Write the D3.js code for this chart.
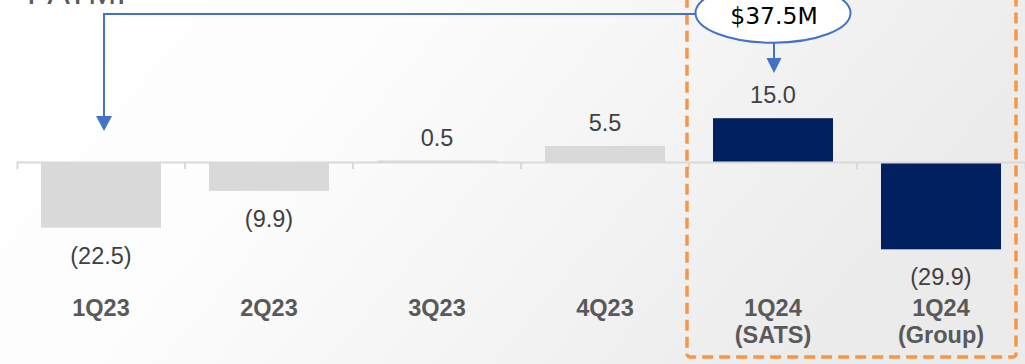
<!DOCTYPE html>
<html>
<head>
<meta charset="utf-8">
<script src="https://cdn.jsdelivr.net/npm/d3@7"></script>
<style>
  html, body { margin: 0; padding: 0; background: #fff; }
  svg { display: block; }
</style>
</head>
<body>
<svg id="chart" width="1025" height="364"></svg>
<script>
// Quarterly PATMI (S$M)
const categories = ["1Q23", "2Q23", "3Q23", "4Q23", "1Q24 (SATS)", "1Q24 (Group)"];
const values = [-22.5, -9.9, 0.5, 5.5, 15.0, -29.9];
const highlighted = [false, false, false, false, true, true];
const calloutText = "$37.5M";
const titleText = "PATMI";

const W = 1025, H = 364;
const svg = d3.select("#chart");

// soft grey wash towards the right
const defs = svg.append("defs");
const grad = defs.append("linearGradient").attr("id", "bg").attr("x1", "0").attr("x2", "1").attr("y1", "0").attr("y2", "0.3");
grad.append("stop").attr("offset", "0").attr("stop-color", "#ffffff");
grad.append("stop").attr("offset", "0.35").attr("stop-color", "#fdfdfd");
grad.append("stop").attr("offset", "1").attr("stop-color", "#ebebeb");
svg.append("rect").attr("width", W).attr("height", H).attr("fill", "url(#bg)");

const x = d3.scaleBand()
  .domain(categories)
  .range([17, 1025])
  .paddingInner(0.2857)
  .paddingOuter(0.1429);

const y = d3.scaleLinear().domain([-30, 15]).range([249.6, 118.2]);
const y0 = y(0);

// title (runs off the top edge)
svg.append("text")
  .attr("x", 27).attr("y", 4)
  .attr("font-family", "Liberation Sans, Arial, sans-serif")
  .attr("font-size", 34)
  .attr("fill", "#595959")
  .text(titleText);

// bars
svg.append("g").selectAll("rect")
  .data(categories)
  .join("rect")
  .attr("x", d => x(d))
  .attr("width", x.bandwidth())
  .attr("y", (d, i) => y(Math.max(0, values[i])))
  .attr("height", (d, i) => Math.abs(y(values[i]) - y0))
  .attr("fill", (d, i) => highlighted[i] ? "#002060" : "#d9d9d9");

// category axis
const axis = svg.append("g")
  .attr("transform", `translate(0,${y0})`)
  .call(d3.axisBottom(x).tickSize(0).tickSizeOuter(7).tickPadding(0));
axis.select(".domain").attr("stroke", "#d9d9d9").attr("stroke-width", 2);

// boundary ticks between categories
const step = x.step();
axis.selectAll("line.bound")
  .data(d3.range(1, categories.length))
  .join("line")
  .attr("class", "bound")
  .attr("x1", i => 17 + i * step).attr("x2", i => 17 + i * step)
  .attr("y1", 0).attr("y2", 7)
  .attr("stroke", "#d9d9d9").attr("stroke-width", 2);

axis.selectAll(".tick text").each(function(d) {
  const t = d3.select(this);
  const parts = d.split(" ");
  t.text(null).attr("dy", null).attr("y", 316 - y0)
    .attr("font-family", "Liberation Sans, Arial, sans-serif")
    .attr("font-size", 23.5).attr("font-weight", "bold").attr("fill", "#595959");
  parts.forEach((p, k) => {
    t.append("tspan").attr("x", 0).attr("dy", k === 0 ? 0 : 27).text(p);
  });
});

// value labels
const fmt = v => v < 0 ? `(${d3.format(".1f")(-v)})` : d3.format(".1f")(v);
svg.append("g").selectAll("text")
  .data(categories)
  .join("text")
  .attr("x", d => x(d) + x.bandwidth() / 2)
  .attr("y", (d, i) => values[i] >= 0 ? y(values[i]) - 15 : y(values[i]) + 36)
  .attr("text-anchor", "middle")
  .attr("font-family", "Liberation Sans, Arial, sans-serif")
  .attr("font-size", 23.5)
  .attr("fill", "#404040")
  .text((d, i) => fmt(values[i]));

// highlight frame around the 1Q24 columns
const fx0 = x(categories[4]) - 26, fx1 = x(categories[5]) + x.bandwidth() + 15;
svg.append("rect")
  .attr("x", fx0).attr("y", -20)
  .attr("width", fx1 - fx0).attr("height", 377)
  .attr("rx", 3)
  .attr("fill", "none")
  .attr("stroke", "#f79646").attr("stroke-width", 3.5)
  .attr("stroke-dasharray", "11,6");

// callout
const blue = "#4472c4";
const cx = x(categories[4]) + x.bandwidth() / 2;
const cy = 13, rx = 77.5, ry = 29.7;

const tipX = x(categories[0]) + x.bandwidth() / 2 + 3;
// elbow connector from callout to first quarter
svg.append("path")
  .attr("d", `M${cx - rx},14H${tipX}V116`)
  .attr("fill", "none").attr("stroke", blue).attr("stroke-width", 2);
svg.append("path")
  .attr("d", `M${tipX - 8},116L${tipX + 8},116L${tipX},131Z`)
  .attr("fill", blue);

svg.append("ellipse")
  .attr("cx", cx).attr("cy", cy).attr("rx", rx).attr("ry", ry)
  .attr("fill", "#ffffff").attr("stroke", blue).attr("stroke-width", 2);
svg.append("text")
  .attr("x", cx + 1).attr("y", 23.5)
  .attr("text-anchor", "middle")
  .attr("font-family", "DejaVu Sans, sans-serif")
  .attr("font-size", 23.5)
  .attr("fill", "#000")
  .text(calloutText);

// short arrow down to the 1Q24 (SATS) value
svg.append("path")
  .attr("d", `M${cx + 1},${cy + ry}V58`)
  .attr("fill", "none").attr("stroke", blue).attr("stroke-width", 2);
svg.append("path")
  .attr("d", `M${cx - 7.5 + 1},58L${cx + 7.5 + 1},58L${cx + 1},73Z`)
  .attr("fill", blue);
</script>
</body>
</html>
